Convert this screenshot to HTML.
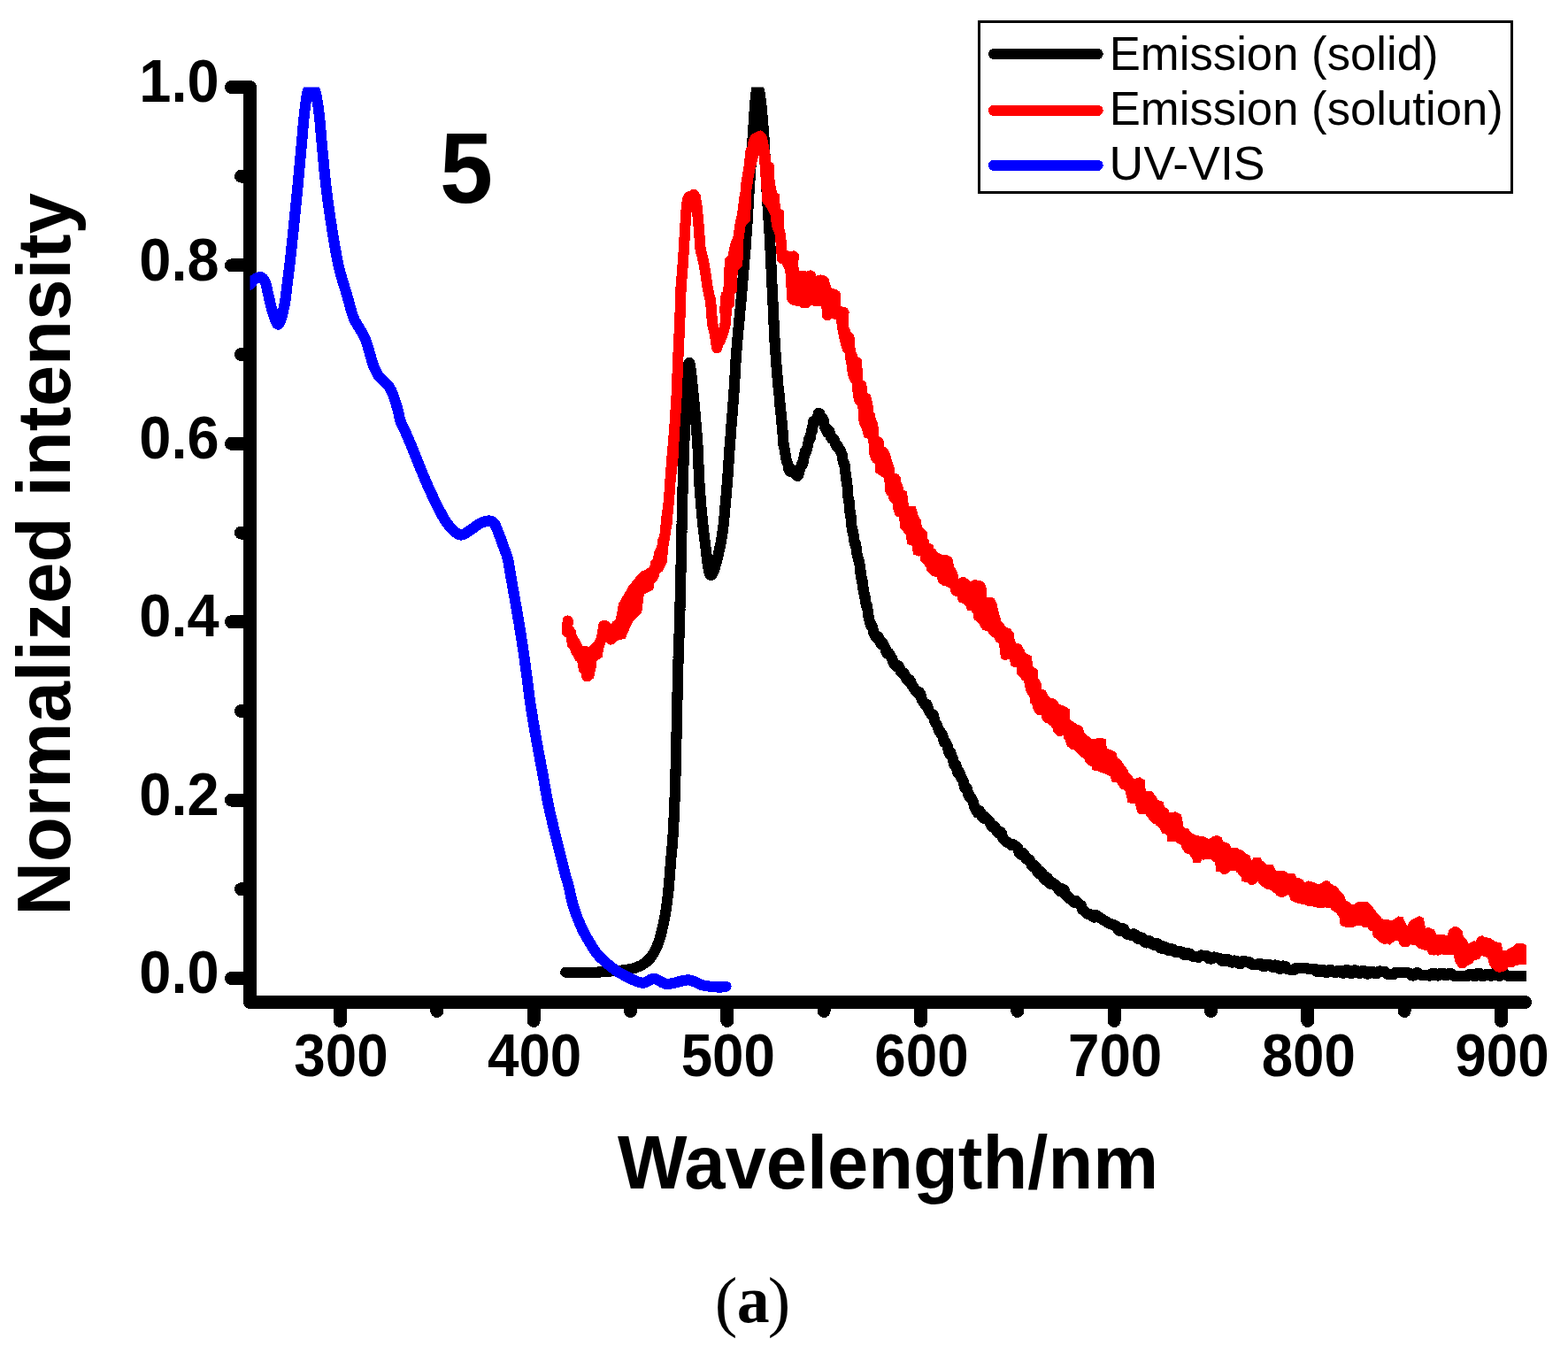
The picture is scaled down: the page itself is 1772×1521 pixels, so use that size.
<!DOCTYPE html>
<html><head><meta charset="utf-8"><title>Normalized intensity vs Wavelength</title>
<style>html,body{margin:0;padding:0;background:#fff;}svg{display:block;}</style>
</head><body>
<svg width="1772" height="1521" viewBox="0 0 1772 1521" shape-rendering="crispEdges">
<defs><clipPath id="pc"><rect x="282.5" y="98.5" width="1442.5" height="1034"/></clipPath></defs>
<rect width="1772" height="1521" fill="#fff"/>
<path d="M282.5,98.5 V1132.5 H1723.5 M261.5,1105.5 H282.5 M272.5,1004.8 H282.5 M261.5,904.1 H282.5 M272.5,803.4 H282.5 M261.5,702.7 H282.5 M272.5,602 H282.5 M261.5,501.3 H282.5 M272.5,400.6 H282.5 M261.5,299.9 H282.5 M272.5,199.2 H282.5 M261.5,98.5 H282.5 M384.5,1132.5 V1153.5 M493.8,1132.5 V1142.5 M603.2,1132.5 V1153.5 M712.5,1132.5 V1142.5 M821.8,1132.5 V1153.5 M931.2,1132.5 V1142.5 M1040.5,1132.5 V1153.5 M1149.8,1132.5 V1142.5 M1259.2,1132.5 V1153.5 M1368.5,1132.5 V1142.5 M1477.8,1132.5 V1153.5 M1587.2,1132.5 V1142.5 M1696.5,1132.5 V1153.5" fill="none" stroke="#000" stroke-width="15" stroke-linecap="round" stroke-linejoin="round"/>
<g clip-path="url(#pc)" fill="none" stroke-width="12.2" stroke-linejoin="round" stroke-linecap="round">
<path stroke="#000" d="M639.2,1098.7 640.7,1098.7 642.8,1098.6 645.2,1098.6 647.7,1098.6 650,1098.6 652.4,1098.7 654.7,1098.8 657.2,1098.9 660,1099 662.2,1099 664.6,1099 667.2,1098.9 669.8,1098.8 672.4,1098.7 675,1098.6 677.5,1098.5 680.1,1098.3 682.7,1098.1 685.2,1097.9 687.7,1097.7 690,1097.5 692.6,1097.3 695.1,1097.1 697.5,1097 699.8,1096.8 702,1096.6 704.6,1096.3 707.1,1096 709.5,1095.7 712,1095.2 714.5,1094.6 717.1,1093.9 719.6,1093 722,1092 724.4,1090.9 726.7,1089.6 728.9,1088.2 731,1086.5 732.6,1085 734.2,1083.4 735.7,1081.6 737.1,1079.6 738.5,1077.5 739.6,1075.5 740.7,1073.4 741.7,1071.2 742.7,1068.9 743.6,1066.4 744.5,1064 745.2,1061.9 745.9,1059.7 746.5,1057.4 747.1,1055.1 747.7,1052.8 748.2,1050.4 748.8,1048 749.3,1045.9 749.8,1043.7 750.2,1041.5 750.6,1039.2 751.1,1037 751.5,1034.7 751.9,1032.4 752.3,1030 752.7,1027.6 753.1,1025.1 753.4,1022.6 753.8,1020.1 754.1,1017.6 754.4,1015 754.7,1012.5 755,1010 755.3,1007.5 755.5,1005.1 755.7,1002.6 756,1000.2 756.2,997.7 756.4,995.2 756.6,992.6 756.8,990 757,987.8 757.2,985.5 757.3,983.2 757.5,980.8 757.7,978.4 757.9,976 758.1,973.7 758.2,971.4 758.4,969.1 758.6,967 758.8,964.6 759,962.5 759.2,960.6 759.4,958.7 759.6,956.6 759.9,954.3 760.1,951.6 760.3,948.3 760.4,946.4 760.5,944.4 760.7,942.2 760.8,939.9 760.9,937.5 761.1,935 761.2,932.5 761.3,929.9 761.5,927.3 761.6,924.6 761.7,921.9 761.8,919.2 762,916.6 762.1,914 762.2,911.4 762.3,908.9 762.4,906.4 762.5,904 762.6,901.5 762.7,899 762.8,896.6 762.9,894.1 762.9,891.6 763,889.1 763.1,886.7 763.2,884.2 763.2,881.7 763.3,879.3 763.4,876.8 763.5,874.3 763.5,871.9 763.6,869.4 763.7,866.9 763.7,864.4 763.8,862 763.9,859.5 763.9,857 764,854.5 764,852 764.1,849.5 764.1,847 764.2,844.6 764.2,842.1 764.3,839.6 764.3,837.2 764.4,834.8 764.4,832.4 764.5,830 764.6,827.5 764.6,825.1 764.7,822.6 764.7,820.3 764.8,817.9 764.8,815.6 764.9,813.2 764.9,810.9 765,808.5 765,806.1 765.1,803.7 765.1,801.3 765.2,798.8 765.2,796.2 765.3,793.6 765.4,791.4 765.4,789.1 765.5,786.8 765.5,784.4 765.6,782.1 765.6,779.7 765.7,777.2 765.7,774.8 765.8,772.3 765.9,769.9 765.9,767.4 766,764.9 766.1,762.5 766.1,760 766.2,757.5 766.3,755.1 766.3,752.6 766.4,750.2 766.5,747.8 766.6,745.4 766.6,743 766.7,740.6 766.8,738.1 766.9,735.7 767,733.3 767.1,730.9 767.1,728.5 767.2,726.1 767.3,723.7 767.4,721.3 767.5,718.9 767.6,716.4 767.7,714 767.7,711.6 767.8,709.2 767.9,706.8 768,704.4 768,702 768.1,699.6 768.2,697.2 768.2,694.7 768.3,692.3 768.4,689.9 768.4,687.5 768.5,685.1 768.5,682.7 768.6,680.3 768.7,677.9 768.7,675.5 768.8,673 768.8,670.6 768.9,668.2 768.9,665.8 769,663.4 769.1,661 769.1,658.7 769.2,656.4 769.2,654.1 769.3,651.8 769.3,649.5 769.4,647.3 769.4,645 769.5,642.7 769.5,640.4 769.6,638.1 769.6,635.7 769.7,633.3 769.8,630.8 769.8,628.2 769.9,625.6 769.9,622.8 770,620 770,617.9 770.1,615.8 770.1,613.6 770.2,611.3 770.2,609.1 770.3,606.7 770.3,604.4 770.4,602 770.4,599.6 770.5,597.2 770.5,594.7 770.6,592.2 770.6,589.8 770.7,587.3 770.7,584.8 770.8,582.3 770.8,579.7 770.9,577.2 770.9,574.7 771,572.2 771,569.8 771.1,567.3 771.2,564.8 771.2,562.4 771.3,560 771.4,557.6 771.4,555.2 771.5,552.8 771.6,550.4 771.7,547.9 771.7,545.5 771.8,543 771.9,540.6 772,538.2 772,535.7 772.1,533.3 772.2,530.9 772.3,528.4 772.4,526 772.5,523.6 772.5,521.2 772.6,518.9 772.7,516.5 772.8,514.1 772.9,511.8 773,509.5 773,507.2 773.1,505 773.2,502.7 773.3,500.5 773.4,497.9 773.5,495.3 773.6,492.7 773.7,490.2 773.8,487.6 773.9,485.1 774,482.6 774.1,480.1 774.2,477.7 774.3,475.2 774.4,472.8 774.5,470.4 774.6,468.1 774.7,465.7 774.8,463.4 774.9,461.1 775,458.8 775.1,456.6 775.3,454.4 775.4,452.2 775.5,450 775.7,447.3 775.8,444.4 776,441.4 776.2,438.4 776.3,435.3 776.5,432.3 776.7,429.3 776.9,426.4 777.1,423.6 777.3,421 777.4,418.5 777.6,416.3 777.9,414.4 778.1,412.7 778.3,411.4 778.5,410.5 778.7,410 779,409.9 779.3,410.5 779.6,411.5 779.9,413.1 780.2,415.1 780.6,417.4 780.9,420.1 781.2,423.1 781.6,426.2 781.9,429.6 782.3,433 782.6,436.5 783,440 783.2,441.9 783.4,443.8 783.6,445.9 783.8,448 784,450.2 784.2,452.5 784.5,454.9 784.7,457.3 784.9,459.8 785.1,462.3 785.4,464.8 785.6,467.4 785.8,470 786,472.6 786.2,475.2 786.5,477.8 786.7,480.5 786.9,483.1 787.1,485.7 787.3,488.3 787.5,490.8 787.7,493.3 787.9,495.7 788,498.2 788.2,500.5 788.4,503 788.5,505.5 788.7,508 788.8,510.4 788.9,512.9 789,515.3 789.1,517.7 789.2,520.1 789.3,522.5 789.4,524.9 789.5,527.2 789.6,529.6 789.7,532 789.8,534.3 789.9,536.7 790,539.1 790.1,541.4 790.3,543.8 790.4,546.2 790.5,548.5 790.7,550.9 790.8,553.3 791,555.7 791.2,558.1 791.4,560.6 791.6,563 791.8,565.5 792,568 792.2,570.5 792.4,573 792.7,575.6 792.9,578.1 793.1,580.6 793.4,583.1 793.6,585.6 793.9,588.1 794.1,590.5 794.4,593 794.6,595.4 794.9,597.7 795.2,600.1 795.4,602.3 795.7,604.6 796,606.8 796.2,608.9 796.5,611 796.9,613.8 797.2,616.8 797.6,619.9 797.9,622.9 798.3,626 798.7,629.1 799.1,632.1 799.4,635 799.8,637.7 800.2,640.3 800.6,642.7 801.1,644.7 801.5,646.5 802,648 802.5,649.1 803,649.8 803.5,650 804.1,649.8 804.7,649.1 805.3,648 806,646.5 806.7,644.7 807.4,642.7 808.2,640.3 808.9,637.7 809.7,635 810.4,632.1 811.2,629.1 811.9,626 812.6,622.9 813.2,619.9 813.9,616.8 814.5,613.8 815,611 815.4,608.9 815.7,606.8 816.1,604.6 816.4,602.3 816.7,600.1 817,597.7 817.3,595.4 817.6,593 817.8,590.5 818.1,588.1 818.3,585.6 818.6,583.1 818.8,580.6 819.1,578.1 819.3,575.6 819.5,573 819.7,570.5 819.9,568 820.1,565.5 820.4,563 820.6,560.6 820.8,558.1 821,555.7 821.2,553.3 821.4,550.9 821.6,548.5 821.8,546.1 822,543.7 822.2,541.3 822.4,538.9 822.5,536.5 822.7,534.1 822.9,531.7 823,529.3 823.2,526.9 823.3,524.5 823.5,522.1 823.7,519.7 823.8,517.3 824,514.9 824.1,512.5 824.3,510.1 824.5,507.7 824.6,505.3 824.8,502.9 825,500.5 825.2,498.1 825.4,495.7 825.6,493.2 825.7,490.8 825.9,488.4 826.1,485.9 826.3,483.5 826.5,481 826.7,478.6 826.9,476.2 827.1,473.7 827.3,471.3 827.5,468.8 827.7,466.4 827.9,464 828.1,461.6 828.3,459.2 828.4,456.8 828.6,454.5 828.8,452.1 829,449.8 829.1,447.5 829.3,445.2 829.5,442.7 829.6,440.3 829.8,437.9 829.9,435.6 830.1,433.3 830.2,431 830.3,428.7 830.5,426.4 830.6,424.2 830.7,421.9 830.8,419.7 831,417.4 831.1,415.1 831.2,412.8 831.4,410.5 831.5,408.2 831.7,405.8 831.8,403.3 832,400.8 832.2,398.3 832.4,395.7 832.6,393.6 832.7,391.4 832.9,389.2 833.1,386.9 833.3,384.7 833.5,382.4 833.7,380.1 833.9,377.8 834.1,375.4 834.4,373.1 834.6,370.7 834.8,368.3 835,365.9 835.3,363.5 835.5,361.1 835.7,358.7 835.9,356.2 836.2,353.8 836.4,351.4 836.6,349 836.8,346.6 837.1,344.1 837.3,341.7 837.5,339.3 837.7,337 837.9,334.6 838.1,332.2 838.3,329.9 838.5,327.5 838.7,325.2 838.9,322.8 839.1,320.4 839.3,318.1 839.5,315.7 839.7,313.4 839.9,311 840.1,308.6 840.3,306.3 840.5,303.9 840.7,301.6 840.9,299.2 841.1,296.8 841.3,294.4 841.5,292.1 841.7,289.7 841.9,287.3 842.1,284.9 842.3,282.6 842.5,280.2 842.6,277.8 842.8,275.4 843,273 843.2,270.6 843.3,268.2 843.5,265.8 843.7,263.4 843.8,260.9 844,258.5 844.2,256.1 844.3,253.6 844.5,251.2 844.6,248.7 844.8,246.3 844.9,243.8 845.1,241.4 845.2,239 845.4,236.5 845.5,234.1 845.7,231.6 845.8,229.2 846,226.8 846.1,224.4 846.2,221.9 846.4,219.5 846.5,217.1 846.7,214.8 846.8,212.4 847,210 847.2,207.5 847.3,205 847.5,202.5 847.7,200 847.8,197.5 848,194.9 848.2,192.4 848.3,189.8 848.5,187.3 848.7,184.7 848.8,182.2 849,179.7 849.2,177.2 849.3,174.7 849.5,172.3 849.6,169.9 849.8,167.5 850,165.1 850.1,162.8 850.3,160.5 850.4,158.3 850.6,156.2 850.7,154 850.9,152 851,150 851.2,147 851.4,144 851.6,141.2 851.8,138.4 852,135.7 852.2,133.1 852.3,130.5 852.5,128.1 852.7,125.7 852.8,123.5 853,121.3 853.1,119.3 853.3,117.3 853.5,115.4 853.6,113.7 853.8,112 854.2,108 854.6,104.7 855,102 855.4,100.1 855.8,98.9 856.3,98.5 856.8,98.9 857.3,100.1 857.8,102 858.4,104.6 858.9,108 859.5,112 859.7,113.7 859.9,115.5 860.2,117.4 860.4,119.5 860.6,121.6 860.8,123.8 861.1,126.2 861.3,128.6 861.5,131.1 861.8,133.7 862,136.4 862.2,139.2 862.4,142.1 862.7,145 862.9,148 863.1,151.1 863.2,153.1 863.4,155.2 863.5,157.4 863.6,159.6 863.8,161.9 863.9,164.2 864,166.6 864.1,169 864.3,171.4 864.4,173.9 864.5,176.4 864.6,178.9 864.7,181.4 864.9,184 865,186.6 865.1,189.1 865.2,191.7 865.4,194.3 865.5,196.9 865.6,199.4 865.8,202 865.9,204.5 866,207 866.2,209.5 866.3,212 866.4,214.4 866.6,216.7 866.7,219.1 866.9,221.4 867,223.8 867.2,226.1 867.3,228.5 867.5,230.9 867.6,233.2 867.8,235.6 867.9,238 868.1,240.3 868.2,242.7 868.4,245 868.5,247.4 868.7,249.8 868.8,252.1 869,254.5 869.1,256.9 869.3,259.2 869.4,261.6 869.6,264 869.7,266.3 869.8,268.7 870,271 870.1,273.4 870.2,275.8 870.4,278.1 870.5,280.5 870.6,282.8 870.7,285.2 870.8,287.5 871,289.9 871.1,292.2 871.2,294.6 871.3,297 871.4,299.3 871.5,301.7 871.6,304 871.8,306.4 871.9,308.7 872,311.1 872.1,313.4 872.2,315.8 872.3,318.1 872.4,320.5 872.5,322.8 872.6,325.2 872.8,327.5 872.9,329.9 873,332.2 873.1,334.6 873.2,337.1 873.3,339.5 873.5,342 873.6,344.5 873.7,347 873.8,349.5 873.9,352 874,354.6 874.2,357.1 874.3,359.6 874.4,362.1 874.5,364.6 874.6,367.1 874.8,369.6 874.9,372.1 875,374.6 875.1,377 875.3,379.4 875.4,381.8 875.5,384.2 875.6,386.6 875.8,388.9 875.9,391.2 876.1,393.5 876.2,395.7 876.4,398.3 876.6,400.9 876.7,403.5 876.9,406 877.1,408.6 877.3,411.1 877.5,413.5 877.7,416 877.9,418.4 878.1,420.8 878.3,423.1 878.5,425.5 878.7,427.8 878.9,430.1 879.1,432.3 879.3,434.5 879.5,436.7 879.7,438.9 879.9,441 880.1,441.5 880.3,443.6 880.6,446.1 880.8,448.9 881.1,455.7 881.4,458.4 881.6,456.4 881.9,459 882.2,465.2 882.4,467.6 882.7,466.7 882.9,469.1 883.1,472.3 883.4,474.5 883.6,479.5 883.8,481.6 884,479.5 884.3,482.4 884.5,489 884.7,491.5 884.9,490.3 885,492.5 885.2,498.7 885.3,500.8 885.5,502.4 885.7,504.5 886,503.1 886.4,505.8 886.7,508.5 887.1,511.1 887.5,513.2 888,515.6 888.4,518.5 889,520.6 889.5,522.2 890.5,524.9 891.5,530.9 892.7,532.8 893.8,530.1 895,531.5 897.1,534.4 899.2,535.7 901.2,538 902.3,536.8 903.3,532 904.2,529.5 905.1,527 906,524.6 906.8,525.4 907.5,523.1 908.2,518.1 908.8,515.7 909.5,511.9 910.2,509.5 910.9,511.3 911.6,508.8 912.3,506 913,503.5 913.8,497.5 914.5,495.1 915.3,496 916.1,493.6 916.8,487.7 917.3,485.4 917.8,487.2 918.3,484.7 918.8,478.2 919.4,475.9 920,477.1 921.1,474.5 922.4,473.4 923.8,471.8 925.1,466.6 926.3,467.3 927.5,473.9 928.8,476.1 930,473.4 930.9,475.2 931.8,482.1 932.7,484.2 933.8,486.4 935.2,489.1 936.2,486 937.4,487.8 938.7,493.7 940.1,495.8 941.5,495.1 942.9,497.3 944.3,502.4 945.6,504.6 946.7,504 947.8,506.2 948.9,507.6 949.9,509.6 950.8,511.7 951.6,513.8 952.5,520.2 953.2,522.9 954,524.8 954.4,526.7 954.7,525.2 955.1,527.3 955.4,533.5 955.7,535.9 956,539.6 956.3,542.1 956.6,541.2 956.9,543.8 957.2,545.8 957.4,548.5 957.7,550.6 958,553.2 958.3,560.3 958.6,562.7 958.9,564.8 959.2,567.3 959.5,565.7 959.8,568.2 960,571.5 960.3,574 960.6,579.3 960.9,581.7 961.2,580.8 961.5,583.2 961.8,590 962.1,592.5 962.4,594.3 962.8,596.8 963.2,599.2 963.6,601.5 964,600.7 964.4,603 964.9,608.7 965.3,611 965.8,613.4 966.3,615.7 966.8,613.9 967.3,616.2 967.8,622.6 968.3,624.9 968.8,626.8 969.3,629.1 969.7,631.2 970.2,633.5 970.6,633.1 971,635.4 971.4,637.1 971.8,639.4 972.2,645.9 972.5,648.2 972.9,646.1 973.2,648.4 973.6,655.1 973.9,657.4 974.3,654.6 974.7,656.9 975.1,663.1 975.4,665.4 975.8,665.2 976.3,667.5 976.7,673.2 977.2,675.5 977.6,674.1 978.1,676.5 978.6,682.1 979,684.6 979.5,683.3 980,685.8 980.5,689 981.1,691.4 981.6,697.3 982.1,699.6 982.7,701.6 983.2,703.8 983.8,705.3 984.4,707.2 985,706.5 986.1,709.4 987.2,714.5 988.3,716.6 989.5,719.2 990.7,721 991.9,719 993.2,720.7 994.6,726.1 996,728.2 997.1,725.9 998.2,727.6 999.2,730 1000.3,731.7 1001.5,736.7 1002.6,738.6 1003.9,737.4 1005.2,739.4 1006.5,741.6 1008,743.7 1009.5,748.9 1011.2,751.2 1012.4,752 1013.7,753.6 1015,752.4 1016.4,754.1 1017.9,758.8 1019.4,760.6 1020.9,760.2 1022.5,762 1024.1,767.1 1025.6,769 1027.2,767.6 1028.8,769.5 1030.4,774 1031.9,775.9 1033.4,778.7 1034.8,780.6 1036.2,781.5 1037.5,783.3 1038.9,782.2 1040.3,784.3 1041.7,790.5 1043,792.6 1044.3,794.5 1045.6,796.5 1046.9,795.3 1048.1,797.4 1049.3,802.1 1050.5,804.1 1051.7,805.8 1052.9,807.8 1054,807 1055.1,809.1 1056.2,814.7 1057.3,816.8 1058.4,818.6 1059.5,820.8 1060.6,824.1 1061.6,826.3 1062.6,827.1 1063.5,829.3 1064.5,829.2 1065.4,831.4 1066.4,836.7 1067.3,838.9 1068.2,837.8 1069.1,840 1070.1,841.7 1071,843.9 1072,849.6 1073,851.8 1074,849.8 1074.9,852 1075.9,855.2 1076.9,857.4 1077.8,862.9 1078.8,865.1 1079.8,863.5 1080.8,865.7 1081.7,871.5 1082.7,873.7 1083.7,871.9 1084.7,874.1 1085.8,877.4 1086.8,879.6 1087.9,881.4 1088.9,883.7 1090,889.1 1091.1,891.4 1092.2,890.3 1093.3,892.7 1094.4,898.3 1095.5,900.6 1096.6,900.1 1097.7,902.3 1098.8,904 1100,906.1 1101.1,912 1102.2,913.9 1103.3,916.3 1105,918.6 1106.6,916.1 1108.3,918 1110,923.2 1111.6,924.7 1113.3,923.2 1115,924.7 1116.6,926.6 1118.3,928.2 1120,932.7 1121.7,934.5 1123.4,933.4 1125.1,935.3 1126.7,939.6 1128.4,941.4 1130.1,939.6 1131.8,941.4 1133.5,947.3 1135.2,949 1136.9,950.5 1138.8,952.2 1140.7,953.2 1142.6,954.8 1144.5,953.8 1146.3,955.3 1148.2,956.4 1150.1,958 1152,964 1153.9,965.7 1155.6,963.6 1157.3,965.4 1159,969.5 1160.7,971.3 1162.4,970.8 1164,972.6 1165.7,977.5 1167.4,979.3 1169.1,977.8 1170.8,979.5 1172.5,985.3 1174.2,987.1 1175.9,984.9 1177.6,986.7 1179.2,992.3 1180.9,994 1182.6,991.2 1184.3,992.8 1186,998 1187.7,999.4 1189.6,997.6 1191.5,998.9 1193.3,1001 1195.2,1002.2 1197.1,1006.3 1199,1007.5 1200.8,1004.5 1202.7,1005.8 1204.6,1011.5 1206.5,1013 1208.4,1015 1210.3,1016.7 1212.2,1018 1214,1019.7 1215.9,1017.7 1217.8,1019.4 1219.7,1021.6 1221.6,1023.1 1223.5,1028.1 1225.4,1029.5 1227.2,1031.3 1229.1,1032.7 1231,1032.7 1232.9,1033.9 1234.7,1035.6 1236.6,1036.8 1238.5,1033.9 1240.6,1035.3 1242.7,1036.8 1244.8,1038.1 1246.9,1039.6 1249.1,1040.8 1251.2,1042.3 1253.3,1043.5 1255.4,1043.9 1257.5,1044.9 1259.6,1045.6 1261.8,1046.4 1263.9,1051.3 1266,1052 1268.2,1049 1270.3,1049.7 1272.4,1054.9 1274.5,1055.8 1276.6,1055.9 1278.7,1056.9 1280.9,1055.2 1283,1056.2 1285.1,1060.2 1287.2,1061.2 1289.3,1059.3 1291.4,1060.2 1293.5,1064.5 1295.6,1065.4 1297.8,1063 1299.9,1063.8 1302,1066.8 1304.1,1067.7 1306.2,1065.7 1308.3,1066.5 1310.4,1070.8 1312.5,1071.6 1314.6,1069.4 1316.8,1070.2 1318.9,1073.5 1321,1074.2 1323.1,1072 1325.5,1072.6 1328,1075.8 1330.4,1076.3 1332.8,1075.1 1335.2,1075.6 1337.7,1078.6 1340.1,1079.1 1342.5,1077.1 1344.9,1077.7 1347.3,1080.5 1349.8,1081.1 1352.2,1081.3 1354.6,1081.8 1357,1079.4 1359.4,1079.7 1361.8,1080 1364.2,1080.2 1366.7,1083.4 1369.1,1083.6 1371.5,1081.5 1373.9,1081.8 1376.2,1082.5 1378.5,1082.9 1380.7,1085.7 1383,1086.2 1385.4,1083.9 1388,1084.3 1390.9,1087.4 1392.9,1087.6 1395.1,1085.5 1397.3,1085.7 1399.7,1088.9 1402.1,1089.1 1404.6,1086 1407,1086.2 1409.5,1087 1411.8,1087.2 1414.1,1089.5 1416.3,1089.8 1418.7,1089.9 1420.9,1090.2 1423,1088.8 1425,1089.1 1427,1091.7 1429.2,1092.1 1431.5,1089.7 1434.2,1090.1 1437.2,1092.6 1439.1,1092.8 1441.1,1090.5 1443.2,1090.8 1445.4,1094.5 1447.6,1094.8 1450,1091.5 1452.4,1091.8 1454.8,1095.2 1457.3,1095.5 1459.8,1096.1 1462.3,1096.3 1464.8,1093.6 1467.3,1093.9 1469.7,1093.9 1472.1,1094.1 1474.5,1094.3 1476.8,1094.4 1479.2,1094.8 1481.5,1094.9 1483.8,1094.8 1486.1,1095 1488.5,1098.1 1490.8,1098.2 1493.1,1095.7 1495.4,1095.8 1497.7,1098.8 1500.1,1098.9 1502.4,1096.1 1504.7,1096.2 1507,1098.7 1509.4,1098.8 1511.7,1096.8 1514,1096.9 1516.4,1099.5 1518.7,1099.6 1521,1096.1 1523.4,1096.2 1525.7,1099.9 1528,1099.9 1530.3,1096.4 1532.7,1096.5 1535,1099.7 1537.3,1099.8 1539.7,1097 1542,1097.1 1544.3,1100.4 1546.7,1100.5 1549,1097.9 1551.3,1098 1553.7,1100.2 1556,1100.2 1558.3,1097.5 1560.6,1097.6 1563,1098 1565.3,1098.1 1567.6,1100.8 1569.9,1100.9 1572.2,1101.3 1574.6,1101.4 1576.9,1098.9 1579.2,1099 1581.5,1099.2 1583.9,1099.3 1586.2,1098.9 1588.5,1099 1590.9,1099.5 1593.2,1099.6 1595.5,1102.4 1597.9,1102.5 1600.2,1099.4 1602.5,1099.4 1604.8,1101.6 1607.2,1101.6 1609.5,1101.6 1611.8,1101.7 1614.2,1102.4 1616.5,1102.5 1618.8,1099.6 1621.2,1099.7 1623.5,1102.4 1625.8,1102.5 1628.2,1099.7 1630.5,1099.7 1632.8,1102.3 1635.1,1102.3 1637.5,1100 1639.8,1100.1 1642.1,1102.5 1644.4,1102.6 1646.7,1103.3 1649.1,1103.3 1651.4,1103 1653.7,1103.1 1656,1103.3 1658.4,1103.3 1660.7,1100.8 1663,1100.8 1665.4,1103 1667.7,1103 1670,1099.9 1672.4,1099.9 1674.7,1102.9 1677,1102.9 1679.4,1100.8 1681.7,1100.8 1684,1102.6 1686.4,1102.6 1688.7,1099.8 1691,1099.8 1693.4,1102.6 1695.7,1102.6 1698,1100.3 1700.6,1100.3 1703.2,1102.7 1706,1102.7 1708.9,1103 1711.7,1103 1714.6,1103.2 1717.4,1103.2 1720.2,1102.7 1722.9,1102.7 1725.4,1102.7 1727.8,1102.7 1730,1100.4 1731.9,1100.4 1733.6,1100.3 1735,1100.3"/>
<path stroke="#f00" d="M641.7,701.5 641,713.3 643,711.6 645,714.9 646.9,727.8 648.9,726.4 650.8,735.4 652.8,733 654.7,742.3 656.9,740.7 659.1,744.9 661.2,748.9 663.4,764.4 665.6,762.1 667.4,754.5 669.2,738 671.4,738.4 673.5,735.5 675.7,733.9 677.9,726.4 680,721.4 682.2,707.3 684.2,707.3 686.2,709.8 688.3,719.9 690.3,722.5 692.3,720.1 694.5,710.8 696.6,706.9 698.8,705.1 701,704.7 703.2,693.5 705.4,687.3 707.5,687.1 709.7,684.2 711.9,681.8 714,675.7 715.8,676.6 717.6,674.4 719.5,671.5 721.3,664.2 723.2,658.1 725.1,656.7 727,664 729,662.5 730.9,652.8 732.8,655.5 734.8,647.3 736.9,653 738.9,649.8 741,636.8 743,639.6 745.1,625.2 747.3,620.8 749.5,616.4 751.6,603.4 753.8,581.7 755.1,574.1 756.5,558 758,535.8 759.5,516.6 761,500.5 762.9,475 764.7,445.2 766.2,407.1 768.2,365.7 769.6,324.3 771.2,305.7 772.8,282.8 774.4,255.2 775.6,237.5 776.9,225.5 778.7,222.2 780.5,227.2 782.3,226.7 784.1,219.6 785.9,222.8 787.8,235.3 789.6,255.2 791.7,282.8 793.7,289.6 795.6,298.8 797.6,310.5 799.3,322.6 801,331.8 802.7,338.1 803.9,349.1 805,365.7 806.7,372.1 808.4,380.8 810.1,393.3 812,384.5 813.9,384.8 815.9,379.3 817.8,373.9 819.7,365.7 821.8,338.1 823.9,327 826,310.5 827.4,296.6 828.7,289.8 830.6,279.4 832.6,273.4 834.5,269 836.1,257.3 837.7,248.5 839.3,241.4 841.2,225.5 843.2,213.8 844.6,205.2 846,191.9 847.9,184.1 849.7,171.5 851.7,160 853.5,156.4 855.4,155.7 857.2,154.4 859.1,153.7 860.9,156.4 862.7,164.9 864.6,176.8 866.4,191.9 868.3,199.3 870.2,209.5 872.2,220 874.1,232.7 875.9,237.5 877.7,251 879.5,258.3 881.3,262 882.6,273.2 884,292 886.2,287.8 888.3,290.1 890.5,289.7 892.7,291.6 894.8,291.1 897,289.5 895.5,298.7 894,305 895,336.7 896.8,338.9 898.6,339 900.4,339.6 902.2,338.3 904,340 905.8,339.5 907.5,341.8 909.2,342.3 911,342 910,312.6 912,313.4 914,313 916,311.4 918,336.7 920,339 922,340.1 924,340 924,318 925.7,316.8 927.4,316.6 929.1,318.7 930.8,317.4 932.9,324.8 935,330 935,356.4 936.5,343.6 938,333.5 940,332.1 942,332.6 944,333.5 944,354.9 945.9,353.1 947.8,354.3 949.7,352 951.6,353.9 953.5,353 952.5,365 954.1,380.2 955.9,387.3 957.7,393.5 959.5,381.7 961.3,405 963,402.2 964.6,407.2 966.3,420 968.1,409.1 969.8,446.7 971.6,453 973.3,435.5 975.1,451.5 976.9,449.7 978.6,450 980.4,457.9 982.1,483.1 984.2,475.2 986.3,480.5 988.4,512.9 990.5,518.1 992.6,499.4 994.7,514.6 996.6,509.9 998.6,511.3 1000.5,515.8 1002.5,523.9 1004.4,528.4 1006.4,554.9 1008.3,546.2 1010.4,562.8 1012.5,546.8 1014.6,551.3 1016.8,572.1 1018.9,576.6 1021,581.5 1023.1,577.7 1025.2,592.8 1027.3,580.1 1029.4,585.3 1031.5,588.2 1033.6,593.5 1035.7,609.3 1037.8,617.3 1039.8,620.2 1041.8,609.8 1043.9,612.7 1046,631.4 1048,627 1050,635.6 1052,624.6 1054,626.6 1055.9,630.7 1057.9,632.7 1059.9,631.2 1061.9,640.8 1063.9,635.2 1065.9,652.7 1067.9,654.7 1070,655.4 1072,657.5 1074,646 1076,648.1 1078,657 1080.1,666.7 1082.1,668.4 1084.2,668.3 1086.3,670 1088.3,658 1090.4,659.7 1092.5,675.8 1094.5,677.5 1096.6,672.4 1098.8,667.4 1100.9,670.3 1103.1,687.9 1105.2,690.7 1107.4,679.1 1109.5,681.9 1111.7,699.8 1113.8,702.6 1116,691.7 1118.1,694.6 1120.3,703.9 1122.4,712.1 1124.5,714.7 1126.6,705.4 1128.7,708 1130.8,710.5 1132.9,713.1 1135,729.9 1137.1,732.5 1139.2,722 1141.3,724.7 1143.4,739.2 1145.5,735.5 1147.7,748.3 1149.8,733.1 1152,737.7 1154.2,742.1 1156.3,746 1158.5,750.7 1160.6,754.7 1162.8,767 1164.8,778 1166.8,782 1168.7,770.2 1170.7,774.2 1172.7,797.8 1174.6,801.8 1176.6,788.8 1178.6,798.6 1180.7,797.1 1182.9,809.4 1185,811.6 1187.2,812 1189.3,814.2 1191.5,805.9 1193.6,808.1 1195.7,823.7 1197.9,825.9 1200,814.9 1202.2,817.1 1204.3,820.2 1206.5,822.5 1208.6,830.1 1210.7,839.1 1212.8,841 1214.9,830.5 1217,832.3 1219.1,844.3 1221.2,846.2 1223.3,848.7 1225.3,850.6 1227.4,839.9 1229.5,841.8 1231.6,857.9 1233.7,859.7 1235.8,849.9 1237.9,851.8 1240,858 1242,863.6 1244,864.3 1246,865.6 1248,866.4 1250,856.3 1251.9,857.1 1253.9,870.4 1255.9,871.1 1257.9,859.6 1259.9,865.8 1262.1,862.8 1264.2,867.9 1266.4,871.1 1268.6,883.3 1270.8,886.5 1273,878.5 1275.1,881.8 1277.3,891.8 1279.5,900.3 1281.6,902.1 1283.8,901.5 1285.9,903.3 1288.1,897 1290.3,898.8 1292.4,909.1 1294.6,906.3 1296.7,913 1298.7,914.4 1300.8,916.4 1302.9,909.2 1305,911.2 1307,924.9 1309.1,920.8 1311.3,928.8 1313.4,917.1 1315.6,918.9 1317.8,932.5 1319.9,934.3 1322.1,927.2 1324.2,929 1326.4,935.2 1328.5,931.9 1330.7,934.1 1332.8,946.3 1334.9,948.5 1337,941.3 1339.2,943.5 1341.3,950.8 1343.2,958 1345.1,959.5 1346.9,948.7 1348.8,950.2 1350.7,965 1352.6,959.8 1354.5,966.3 1356.4,955.4 1358.2,955.2 1360.1,965.5 1362,965.3 1363.9,958.7 1365.8,964.8 1367.8,965.4 1369.7,953.5 1371.6,954.1 1373.5,967.8 1375.5,968.4 1377.4,963.2 1378.6,964.4 1379.7,979 1381.6,971 1383.6,981.9 1385.5,980.6 1387.4,969.3 1389.3,968.1 1391.3,978.1 1393.2,970 1395.2,977.9 1397.2,965.8 1399.1,966.9 1401.1,966.4 1403.1,967.6 1405,985.2 1407,986.3 1409,979 1409,990.3 1410.9,981.2 1412.8,979.7 1414.7,993.9 1416.5,992.4 1418.4,977.1 1420.3,981.3 1422.2,977.1 1424.1,978.2 1425.9,979.7 1427.8,994.8 1429.7,996.3 1431.6,990.3 1433.5,987.4 1435.4,988.9 1437.2,999.3 1439.1,1000.8 1441,992.8 1442.9,999.3 1445,994.6 1447.1,1007.5 1449.2,1007.8 1451.3,1005.3 1453.5,1005.6 1455.6,993.7 1457.7,994 1459.8,1001.6 1461.9,1009.6 1464,1010.5 1466.1,997.8 1468.2,998.7 1470.4,1010.5 1472.5,1011.3 1474.6,1014 1476.7,1008.4 1478.8,1015.5 1481,1002.2 1483.1,1002.7 1485.2,1017.1 1487.3,1017.7 1489.5,1005.1 1491.6,1005.7 1493.7,1012.9 1495.6,1018.8 1497.5,1018.8 1499.3,1004.8 1501.2,1004.8 1503.1,1005 1505,1012.9 1506.9,1006.9 1508.7,1023.1 1510.6,1025 1512.5,1015.3 1514.3,1017.2 1516.2,1024.2 1518.1,1033.3 1520,1029.6 1522,1034.3 1524,1028 1526,1028.6 1527.9,1036.2 1529.9,1036.8 1531.9,1033.2 1533.8,1026.8 1535.7,1025.4 1537.5,1033 1539.4,1031.6 1541.3,1026.1 1543.4,1025.8 1545.4,1029.1 1547.5,1040.5 1549.6,1039.1 1551.5,1046.4 1553.4,1038.7 1555.3,1041.5 1557.2,1055.1 1559.1,1053.3 1561.2,1058.6 1563.4,1059.6 1565.5,1060.8 1567.7,1052.9 1569.8,1059.3 1571.8,1051.4 1573.7,1057.8 1575.7,1055.2 1577.7,1053.5 1579.6,1050.9 1581.6,1043.8 1583.2,1047 1584.8,1053.4 1586.4,1062.8 1588.5,1063.1 1590.6,1060.6 1592.6,1058.6 1594.7,1056.1 1596.8,1046.6 1598.8,1044.1 1600.9,1049.7 1603,1042.7 1605,1054.7 1606.9,1062.5 1608.9,1065.2 1611,1067.9 1613.1,1065.2 1615.1,1063.1 1617.2,1056.9 1619,1060.7 1620.7,1071.1 1622.7,1067 1624.7,1073.5 1626.7,1072.7 1628.6,1064.1 1630.6,1063.3 1632.6,1066.4 1634.6,1068.1 1636.7,1066.5 1638.7,1066.3 1640.7,1064.8 1642.7,1054.6 1644.8,1053 1646.8,1055.7 1648.6,1074.9 1650.4,1085.3 1652.4,1088.3 1654.3,1079.1 1656.3,1077.8 1658.3,1084.7 1660.2,1083.4 1662.2,1077 1664.2,1071.4 1666.2,1069.4 1668.2,1076.4 1670.1,1074.4 1672.1,1072.7 1674.1,1065.2 1676.1,1072.1 1678,1064.8 1680,1066.2 1682,1066 1683.9,1067.4 1685.9,1073.5 1687.7,1084.4 1689.5,1089.1 1691.2,1079.7 1693,1092.4 1695,1086.9 1697,1092.4 1699,1090.8 1700.9,1081.5 1702.9,1079.9 1704.9,1083 1707.1,1078.1 1709.2,1076.5 1711.4,1083.5 1713.6,1081.9 1715.7,1072 1717.9,1073.5 1719.9,1072 1721.9,1081.5 1724,1083.1 1726,1075.2 1728,1076.8 1730,1083"/>
<path fill="#f00" stroke="none" d="M861.5,149.2 867.1,160.3 868.9,182.4 874.4,184.2 876.3,217.3 880.9,219.2 881.8,235.8 885.5,237.6 887.3,281.8 891,283.6 900.2,285.5 903,305.7 913.1,306.7 922.3,315 931.5,312.2 937.1,327.8 948.1,329.7 950,346.3 954.5,348.1 957.3,364.7 962.8,377.6 968.3,408.9 957.3,401.5 953.6,386.8 947.2,377.6 944.4,359.2 937.1,361 931.5,359.2 927.8,346.3 918.6,342.6 911.3,348.1 905.7,342.6 898.4,344.4 894.7,335.2 889.2,331.5 887.3,305.7 882.7,296.5 878.1,291 877.2,265.2 872.6,257.9 870.8,243.1 867.1,235.8 861.5,228.4 857.9,176.8Z"/>
<path fill="#f00" stroke="none" d="M634.5,705.9 637.1,698 642.3,695.4 646.3,703.3 648.9,713.8 654.2,721.7 658.1,729.6 666,730.9 672.6,724.3 676.5,711.2 679.1,703.3 687,703.3 691,708.6 696.2,700.7 698.9,682.3 706.7,669.1 709.4,663.9 719.9,650.7 725.1,645.5 733,642.8 740.9,627.1 743.5,608.7 748.8,598.2 751.4,564 756.7,511.4 761.9,458.9 768.5,458.9 767.2,511.4 763.2,548.2 759.3,595.5 755.4,608.7 754.1,635 748.8,645.5 740.9,650.7 738.3,666.5 727.8,671.8 725.1,692.8 714.6,703.3 706.7,721.7 696.2,724.3 688.3,721.7 683.1,727 680.5,742.7 672.6,748 671.3,766.4 666,767.7 659.4,763.8 654.2,758.5 651.5,742.7 646.3,729.6 641,721.7 634.5,716.4Z"/>
<path fill="#f00" stroke="none" d="M1230,831.7 1233.4,835.6 1241.2,835.6 1244.5,833.9 1250.1,836.7 1250.7,845.6 1256.8,847.9 1261.3,850.1 1263.5,859.1 1268,861.3 1274.7,870.2 1275.3,878.1 1281.4,880.3 1288.1,878.1 1293.7,881.4 1294.8,894.3 1301.5,894.3 1307.1,900.4 1308.2,903.8 1314.9,906 1317.2,919.4 1328.4,917.2 1335.1,920.5 1337.9,935.6 1342.9,936.2 1345.1,940.1 1351.8,944 1359.7,945.1 1366.4,947.9 1370.8,945.1 1375.3,944 1380.9,946.2 1382,950.7 1388.7,952.9 1392.1,958.5 1398.6,958.2 1401.5,962.1 1402.5,965.9 1407.3,964 1413,966.9 1414,972.6 1416.9,968.8 1424.5,968.8 1427.4,974.5 1431.3,976.5 1438,976.5 1441.8,984.1 1451.4,984.1 1456.2,987 1462.9,987 1465.8,992.8 1471.5,994.7 1473.5,997.6 1478.3,995.2 1484,997.6 1485,1004.3 1488.8,1005.2 1490.7,999.5 1497.4,995.2 1502.2,995.6 1506.1,1002.4 1513.8,1006.2 1518.5,1011 1521.4,1017.7 1525.3,1019.6 1528.1,1022.5 1532.9,1021.5 1535.8,1018.7 1545.4,1018.7 1549.2,1022.5 1556.1,1031.3 1562.2,1038.4 1573.4,1040 1580.5,1035.4 1585.6,1036.4 1588.6,1043.5 1592.7,1048.6 1596.7,1045.6 1598.8,1037.4 1603.8,1034.9 1608.9,1037.4 1611,1048.6 1615,1048.1 1621.1,1050.6 1623.1,1056.2 1639.4,1056.7 1642.4,1049.6 1647.5,1048.1 1652.6,1051.6 1653.6,1057.7 1656.7,1060.8 1660.7,1067.9 1665.8,1067.9 1669.9,1058.8 1674.9,1057.2 1681,1060.3 1687.1,1061.8 1689.2,1064.3 1696.3,1064.9 1698.3,1073.5 1710.5,1074 1712.5,1068.9 1717.6,1067.4 1722.7,1069.9 1724.7,1074 1726.8,1074 1726.8,1089.7 1724.7,1089.7 1716.6,1090.3 1712.5,1091.3 1709.5,1093.3 1704.4,1093.3 1699.3,1096.3 1695.3,1099.4 1690.2,1097.4 1689.2,1091.3 1684.1,1087.2 1682.1,1083.1 1678,1081.1 1673.9,1080.1 1671.9,1083.6 1666.8,1085.2 1662.8,1084.2 1657.7,1086.2 1656.7,1091.3 1652.6,1092.3 1647.5,1091.3 1646.5,1087.2 1643.5,1083.1 1643,1079.1 1631.3,1078.6 1626.2,1078.1 1621.1,1079.6 1615,1079.1 1612,1073.5 1608.9,1073.5 1602.8,1071.5 1599.8,1067.9 1593.7,1067.4 1590.6,1070.4 1584.5,1070.4 1581.5,1066.9 1580.5,1062.8 1576.4,1063.3 1570.3,1067.9 1566.3,1065.9 1563.2,1061.3 1556.1,1061.3 1552,1054.7 1550.2,1048.4 1541.6,1048.4 1537.7,1045.5 1532,1046.5 1528.1,1048.4 1522.4,1048.4 1514.7,1045.5 1513.8,1036.9 1509,1030.2 1504.2,1026.3 1497.4,1025.4 1490.7,1026.3 1484,1024.4 1478.3,1024.4 1475.4,1022.5 1469.6,1021.5 1462.9,1019.6 1458.1,1016.7 1457.2,1010 1452.4,1009.1 1447.6,1007.2 1443.7,1009.1 1439.9,1009.1 1435.1,1005.2 1430.3,1004.3 1423.6,999.5 1421.7,992.8 1414.9,988.9 1414,994.7 1408.2,997.6 1403.4,995.6 1403,987 1397.7,986 1393.2,979.8 1386.5,976.4 1384.2,985.4 1374.2,985.4 1373.1,971.9 1368.6,969.7 1364.1,969.2 1358.5,970.8 1356.3,975.3 1348.5,975.3 1346.2,965.8 1339.5,964.1 1335.1,957.4 1333.9,949.6 1329.5,951.3 1319.4,950.7 1318.3,942.9 1313.3,941.8 1308.2,931.7 1302.7,930.6 1297.1,923.9 1294.8,920.5 1285.9,919.4 1282.5,908.2 1274.1,907.1 1272.5,892.6 1263.5,884.8 1256.8,883.6 1253.5,874.7 1246.8,874.1 1241.2,871.4 1234.5,870.2 1233.4,863.5 1230,861.3Z"/>
<path fill="#f00" stroke="none" d="M963.8,380 965.8,393.8 967.8,407.6 973.7,409.6 974.7,433.3 977.6,443.2 982.6,445.1 983.6,462.9 988.5,466.8 991.4,488.6 994.4,498.4 997.4,500.4 998.4,510.3 1003.3,514.2 1007.2,533.9 1015.1,535.9 1018.1,539.9 1019.1,552.7 1025,555.7 1027,572.4 1034.9,572.4 1037.8,583.3 1040.8,587.2 1041.8,595.1 1047.7,601.1 1048.7,612.9 1054.6,615.9 1056.6,625.7 1064.5,626.7 1072.4,627.7 1076.3,630.7 1078.3,640.5 1081.2,644.5 1082.2,656.3 1090.1,657.3 1100,656.3 1100.8,655 1111,656.8 1114.4,662.7 1115.3,674.7 1123,675.6 1126.4,681.5 1129,693.5 1133.2,707.2 1141.8,710.6 1146.1,715.7 1146.9,729.4 1151.2,732.8 1157.2,733.7 1158.9,737.9 1165.7,741.4 1167.4,753.3 1172.6,756.8 1173.4,777.3 1181.1,779.8 1186.2,788.4 1193.1,790.1 1197.4,796.1 1203.3,797.8 1208.5,801.2 1209.3,813.2 1217,818.3 1223,820.9 1225.6,828.5 1231.5,833.7 1234.1,835.4 1244.4,833.7 1250,835.4 1250,874.7 1242.6,872.1 1235.8,869.6 1234.1,862.7 1229.8,859.3 1225.6,850.8 1222.1,845.6 1218.7,845.6 1211.9,843.1 1210.2,837.9 1202.5,835.4 1199.9,821.7 1193.1,823.4 1187.9,821.7 1187.1,811.5 1184.5,809.7 1178.5,806.3 1176,797.8 1172.6,796.1 1168.3,796.9 1164,794.4 1162.3,773.8 1160.6,772.1 1155.5,768.7 1149.5,761.9 1148.6,751.6 1143.5,748.2 1140.1,744.8 1135,746.5 1130.7,743.1 1129.8,727.7 1124.7,724.3 1123,716.6 1117.9,713.2 1111,712.3 1108.5,708.9 1105.9,703.8 1100.8,700.3 1099.1,690.1 1093.1,690.1 1091.4,685 1088.8,682.4 1082.8,679.8 1081.2,671.1 1076.3,668.2 1072.4,662.2 1066.4,662.2 1060.5,658.3 1058.6,652.4 1052.6,650.4 1046.7,644.5 1045.7,626.7 1038.8,628.7 1031.9,626.7 1030.9,616.8 1025,614.9 1024,605 1021.1,601.1 1017.1,597.1 1016.1,584.3 1012.2,583.3 1009.2,575.4 1008.2,565.5 1005.3,561.6 1001.3,547.8 998.4,539.9 995.4,537.9 989.5,533.9 988.5,520.1 984.5,518.2 983.6,506.3 982.6,496.4 976.6,494.5 973.7,484.6 970.7,478.7 969.7,462.9 967.8,451.1 965.8,435.3 960.9,431.3 957.9,423.4 955.9,407.6 953.9,389.9 950,383.9Z"/>
<path fill="#f00" stroke="none" d="M813.1,350.5 814.8,330.7 817.3,329.1 818.9,293 824.6,286.4 828.8,281.4 829.6,258.4 832,245.3 834.5,239.5 836.1,237.1 837,209.2 838.6,199.3 840.3,189.4 842.7,168.1 848.5,159.9 852.6,153.3 856.7,150 858.3,174.6 856.7,177.9 853.4,191.1 851.8,199.3 849.3,215.7 848.5,237.1 847.7,250.2 842.7,255.2 840.3,261.7 839.4,299.5 833.7,306.1 832.9,329.1 830.4,332.4 829.6,345.5 825.5,350.5 824.6,363.6 819.7,370.2 816.4,380Z"/>
<path stroke="#00f" d="M276,324C277,323.6 279.8,323.1 281.8,321.7C283.8,320.3 285.9,316.9 288,315.5C290.1,314.1 292.4,312.7 294.3,313.1C296.2,313.5 298,314.8 299.5,318C301,321.2 301.7,326.9 303.1,332.6C304.5,338.3 306.2,346.7 308.1,352.3C310,357.9 312.5,367.6 314.7,366.5C316.9,365.4 319.6,353.6 321.3,345.7C323,337.8 323.7,328.2 324.8,319.4C325.9,310.6 326.8,305 328.1,293.1C329.4,281.2 331.4,261.9 332.8,247.8C334.2,233.7 335.4,221.5 336.7,208.3C337.9,195.2 339.1,182.1 340.3,168.9C341.5,155.8 342.7,140.2 343.9,129.4C345.1,118.6 346.1,109.2 347.5,104C348.9,98.8 350.5,98.5 352,98.5C353.5,98.5 355.1,98.8 356.5,104C357.9,109.2 359.4,118.6 360.7,129.4C362,140.2 363.1,155.8 364.3,168.9C365.6,182.1 366.7,195.2 368.2,208.3C369.7,221.5 371.5,234.7 373.5,247.8C375.5,260.9 378.2,277.4 380,287.2C381.8,296.9 382,298.7 384,306.3C386,313.9 389.3,323.8 391.9,332.6C394.5,341.4 397,352.3 399.5,358.9C402,365.5 404.4,367.6 406.8,372C409.2,376.4 411.2,378.6 413.6,385.2C416.1,391.8 419.1,404.9 421.5,411.5C423.9,418.1 424.7,420.2 427.8,424.6C430.9,429 437.3,433.4 440.3,437.8C443.3,442.2 444.2,446.5 445.8,450.9C447.4,455.3 448.5,459.6 449.7,464C450.9,468.4 451.7,473.5 453,477.2C454.3,480.9 454.8,480.4 457.4,486.3C460,492.2 464.9,503.8 468.5,512.6C472.1,521.4 475.4,530.1 479.1,538.9C482.8,547.7 487.2,557.5 490.9,565.2C494.6,572.9 498.6,580.4 501.1,584.9C503.6,589.4 503.6,589.4 505.7,592C507.8,594.6 511,598.4 513.6,600.5C516.2,602.6 518.4,604.8 521.5,604.5C524.6,604.2 528.5,600.9 532,598.7C535.5,596.5 539.3,593.2 542.6,591.5C545.9,589.8 549.2,588.6 551.8,588.5C554.4,588.4 556.2,588.3 558.3,591C560.4,593.7 562.5,600.1 564.3,604.6C566.1,609.1 567.5,613.4 569.1,617.8C570.7,622.2 572.5,626.6 573.7,631C574.9,635.4 575.3,639.7 576.1,644.1C576.9,648.5 577.3,651.3 578.3,657.2C579.3,663.1 580.5,669.1 582.3,679.4C584.1,689.7 586.8,705.8 588.9,718.9C591,732 592.8,745.1 594.6,758.3C596.4,771.4 597.8,784.6 599.8,797.8C601.8,810.9 604.3,825.3 606.4,837.2C608.5,849.1 610.2,857.5 612.4,869.4C614.6,881.3 616.9,895.8 619.6,908.9C622.3,922 625.6,935.1 628.8,948.3C632,961.4 636.5,979.2 638.7,987.8C641,996.4 640.7,993.8 642.3,1000C643.9,1006.2 645.6,1016.5 648.2,1024.8C650.8,1033.1 654.5,1042.5 657.9,1049.7C661.3,1057 665.2,1063.1 668.4,1068.3C671.6,1073.5 672.8,1076.2 677.1,1080.7C681.5,1085.2 689.5,1091.9 694.5,1095.6C699.5,1099.3 701.7,1100.5 706.9,1103C712.1,1105.5 720.1,1110.2 725.5,1110.7C730.9,1111.2 734.5,1105.6 739.2,1105.8C744,1106 747.6,1111.7 754,1112C760.4,1112.3 771.1,1107.2 777.7,1107.4C784.3,1107.6 788.2,1111.9 793.8,1113.2C799.4,1114.5 806.8,1115.2 811.2,1115.5C815.7,1115.8 819,1114.9 820.5,1114.8"/>
</g>
<text transform="matrix(0.6496 0 0 0.6870 157.3 1122.1)" font-family="'Liberation Sans', Arial, sans-serif" font-weight="bold" font-size="100">0.0</text>
<text transform="matrix(0.6496 0 0 0.6870 157.3 920.7)" font-family="'Liberation Sans', Arial, sans-serif" font-weight="bold" font-size="100">0.2</text>
<text transform="matrix(0.6496 0 0 0.6870 157.3 719.3)" font-family="'Liberation Sans', Arial, sans-serif" font-weight="bold" font-size="100">0.4</text>
<text transform="matrix(0.6496 0 0 0.6870 157.3 517.9)" font-family="'Liberation Sans', Arial, sans-serif" font-weight="bold" font-size="100">0.6</text>
<text transform="matrix(0.6496 0 0 0.6870 157.3 316.5)" font-family="'Liberation Sans', Arial, sans-serif" font-weight="bold" font-size="100">0.8</text>
<text transform="matrix(0.6496 0 0 0.6870 157.3 115.1)" font-family="'Liberation Sans', Arial, sans-serif" font-weight="bold" font-size="100">1.0</text>
<text transform="matrix(0.6370 0 0 0.6880 332.3 1216.2)" font-family="'Liberation Sans', Arial, sans-serif" font-weight="bold" font-size="100">300</text>
<text transform="matrix(0.6370 0 0 0.6880 551 1216.2)" font-family="'Liberation Sans', Arial, sans-serif" font-weight="bold" font-size="100">400</text>
<text transform="matrix(0.6370 0 0 0.6880 769.7 1216.2)" font-family="'Liberation Sans', Arial, sans-serif" font-weight="bold" font-size="100">500</text>
<text transform="matrix(0.6370 0 0 0.6880 988.3 1216.2)" font-family="'Liberation Sans', Arial, sans-serif" font-weight="bold" font-size="100">600</text>
<text transform="matrix(0.6370 0 0 0.6880 1207 1216.2)" font-family="'Liberation Sans', Arial, sans-serif" font-weight="bold" font-size="100">700</text>
<text transform="matrix(0.6370 0 0 0.6880 1425.7 1216.2)" font-family="'Liberation Sans', Arial, sans-serif" font-weight="bold" font-size="100">800</text>
<text transform="matrix(0.6370 0 0 0.6880 1644.3 1216.2)" font-family="'Liberation Sans', Arial, sans-serif" font-weight="bold" font-size="100">900</text>
<text transform="matrix(1.0800 0 0 1.1400 496.9 228.8)" font-family="'Liberation Sans', Arial, sans-serif" font-weight="bold" font-size="100">5</text>
<text transform="matrix(0.8314 0 0 0.8500 697.9 1342.8)" font-family="'Liberation Sans', Arial, sans-serif" font-weight="bold" font-size="100">Wavelength/nm</text>
<text transform="matrix(0 -0.8350 0.8550 0 79.1 1034.6)" font-family="'Liberation Sans', Arial, sans-serif" font-weight="bold" font-size="100">Normalized intensity</text>
<rect x="1106.5" y="24.3" width="602.2" height="193.2" fill="none" stroke="#000" stroke-width="2.7"/>
<line x1="1123" y1="61" x2="1240.7" y2="61" stroke="#000" stroke-width="12" stroke-linecap="round"/>
<text transform="matrix(0.5270 0 0 0.5350 1253.7 79.1)" font-family="'Liberation Sans', Arial, sans-serif" font-weight="normal" font-size="100">Emission (solid)</text>
<line x1="1123" y1="124.9" x2="1240.7" y2="124.9" stroke="#f00" stroke-width="12" stroke-linecap="round"/>
<text transform="matrix(0.5270 0 0 0.5350 1253.7 141.2)" font-family="'Liberation Sans', Arial, sans-serif" font-weight="normal" font-size="100">Emission (solution)</text>
<line x1="1123" y1="186.9" x2="1240.7" y2="186.9" stroke="#00f" stroke-width="12" stroke-linecap="round"/>
<text transform="matrix(0.5370 0 0 0.5350 1253.6 203.3)" font-family="'Liberation Sans', Arial, sans-serif" font-weight="normal" font-size="100">UV-VIS</text>
<text transform="matrix(0.7670 0 0 0.7670 807.7 1495.7)" font-family="'Liberation Serif', 'Times New Roman', serif" font-weight="normal" font-size="100">(</text>
<text transform="matrix(0.7380 0 0 0.7520 832.7 1494.2)" font-family="'Liberation Serif', 'Times New Roman', serif" font-weight="bold" font-size="100">a</text>
<text transform="matrix(0.7670 0 0 0.7670 867.8 1495.7)" font-family="'Liberation Serif', 'Times New Roman', serif" font-weight="normal" font-size="100">)</text>
</svg>
</body></html>
